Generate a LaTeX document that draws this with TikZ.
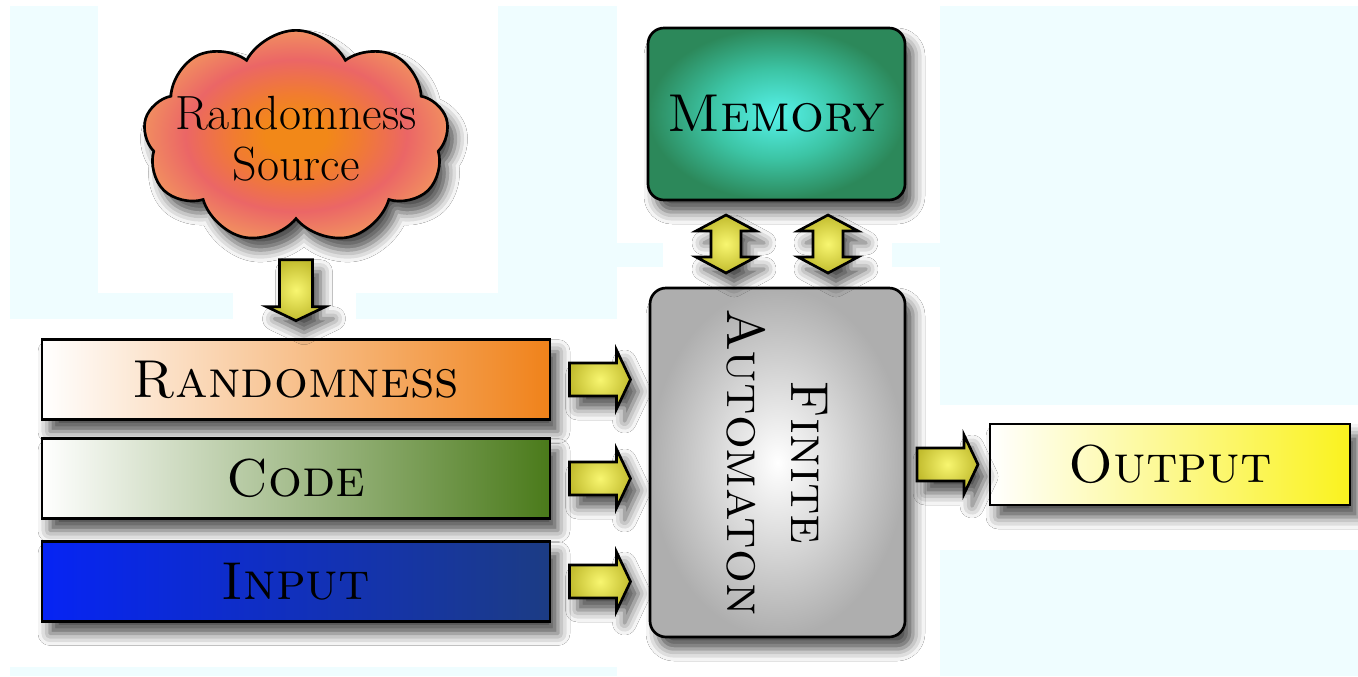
\documentclass[tikz,border=0pt]{standalone}
\usepackage{fontspec}
\usetikzlibrary{shapes.symbols,shadows.blur,calc}
\definecolor{bgcyan}{RGB}{239,253,255}
\definecolor{cloudA}{RGB}{242,136,24}
\definecolor{cloudB}{RGB}{241,124,48}
\definecolor{cloudC}{RGB}{235,102,102}
\definecolor{cloudD}{RGB}{241,142,96}
\definecolor{memA}{RGB}{86,242,234}
\definecolor{memB}{RGB}{60,196,164}
\definecolor{memC}{RGB}{44,136,90}
\definecolor{faA}{RGB}{255,255,255}
\definecolor{faB}{RGB}{174,174,174}
\definecolor{arA}{RGB}{248,246,112}
\definecolor{arB}{RGB}{194,188,46}
\definecolor{randR}{RGB}{240,130,26}
\definecolor{codeR}{RGB}{74,122,26}
\definecolor{inL}{RGB}{6,36,244}
\definecolor{inR}{RGB}{28,60,132}
\definecolor{outR}{RGB}{250,242,30}
\pgfdeclareradialshading[cloudA,cloudB,cloudC,cloudD]{cloudshade}{\pgfpoint{0bp}{0bp}}{color(0bp)=(cloudA); color(5bp)=(cloudA); color(10bp)=(cloudB); color(18bp)=(cloudC); color(25bp)=(cloudD); color(50bp)=(cloudD)}
\pgfdeclareradialshading[memA,memB,memC]{memshade}{\pgfpoint{0bp}{0bp}}{color(0bp)=(memA); color(13bp)=(memB); color(25bp)=(memC); color(50bp)=(memC)}
\pgfdeclareradialshading[faA,faB]{fashade}{\pgfpoint{0bp}{0bp}}{color(0bp)=(faA); color(25bp)=(faB); color(50bp)=(faB)}
\pgfdeclareradialshading[arA,arB]{arshade}{\pgfpoint{0bp}{0bp}}{color(0bp)=(arA); color(25bp)=(arB); color(50bp)=(arB)}
\newcommand\myBig{\fontsize{40}{48}\selectfont}
\newcommand\myMid{\fontsize{36}{38}\selectfont}
\begin{document}
\begin{tikzpicture}[x=0.75pt,y=-0.75pt,
  shade/.style={blur shadow={shadow xshift=6pt, shadow yshift=-9pt, shadow blur radius=9pt, shadow opacity=70}},
  box/.style={draw=black, line width=2pt, shade, inner sep=0pt},
  bar/.style={box, minimum width=381pt, minimum height=60pt, shading=axis, left color=white},
  rbox/.style={box, rounded corners=12pt},
  lbl/.style={font=\myBig\scshape, inner sep=0pt, align=center},
  arrowbody/.style={draw=black, line width=2pt, shade, shading=arshade, line join=miter},
  rarr/.pic={\path[arrowbody] (-30.5,-16.5) -- (16.5,-16.5) -- (16.5,-29.5) -- (30.5,0) -- (16.5,29.5) -- (16.5,16.5) -- (-30.5,16.5) -- cycle;},
  darr/.pic={\path[arrowbody] (0,-29) -- (30,-13) -- (15,-13) -- (15,13) -- (30,13) -- (0,29) -- (-30,13) -- (-15,13) -- (-15,-13) -- (-30,-13) -- cycle;}
]
\useasboundingbox (0,0) rectangle (1358,676);
\fill[white] (0,0) rectangle (1358,676);
% background patches
\fill[bgcyan] (10,6) rectangle (98,319);
\fill[bgcyan] (98,293) rectangle (233,319);
\fill[bgcyan] (356,293) rectangle (498,319);
\fill[bgcyan] (498,6) rectangle (617,319);
\fill[bgcyan] (617,243) rectangle (663,267);
\fill[bgcyan] (892,243) rectangle (940,267);
\fill[bgcyan] (940,6) rectangle (1358,405);
\fill[bgcyan] (940,550) rectangle (1358,676);
\fill[bgcyan] (10,667) rectangle (617,676);

% cloud
\node[cloud, cloud puffs=9, cloud puff arc=125, cloud ignores aspect, draw=black, line width=2pt, shade,
      shading=cloudshade, minimum width=229pt, minimum height=160pt, inner sep=0pt] (cloud) at (296,137) {};
\node[font=\myMid, align=center, inner sep=0pt] (cloudtxt) at (296,139) {Randomness\\Source};

% bars
\node[bar, right color=randR] (rbar) at (296,379.5) {};
\node[lbl] at (rbar.center) {Randomness};
\node[bar, right color=codeR] (cbar) at (296,478.5) {};
\node[lbl] at (cbar.center) {Code};
\node[bar, left color=inL, right color=inR] (ibar) at (296,581.5) {};
\node[lbl] at (ibar.center) {Input};

% memory
\node[rbox, shading=memshade, minimum width=192.75pt, minimum height=129pt] (mem) at (776.5,114) {};
\node[lbl] at (mem.center) {Memory};

% finite automaton
\node[rbox, shading=fashade, minimum width=191.25pt, minimum height=261.75pt] (fa) at (777.5,462.5) {};
\node[lbl, rotate=-90] at (fa.center) {Finite\\Automaton};

% output
\node[box, shading=axis, left color=white, right color=outR, minimum width=270pt, minimum height=60.75pt] (out) at (1170,464.5) {};
\node[lbl] at (out.center) {Output};

% block arrows
\path ($(rbar.north)+(0,-48)$) pic[rotate=-90] {rarr};
\path ($(rbar.east)!0.5!(fa.west |- rbar.east)$) pic {rarr};
\path ($(cbar.east)!0.5!(fa.west |- cbar.east)$) pic {rarr};
\path ($(ibar.east)!0.5!(fa.west |- ibar.east)$) pic {rarr};
\path ($($(mem.south)!0.5!(fa.north)$)+(-51,0)$) pic {darr};
\path ($($(mem.south)!0.5!(fa.north)$)+(51,0)$) pic {darr};
\path ($(fa.east |- out.west)!0.5!(out.west)$) pic {rarr};
\end{tikzpicture}
\end{document}
